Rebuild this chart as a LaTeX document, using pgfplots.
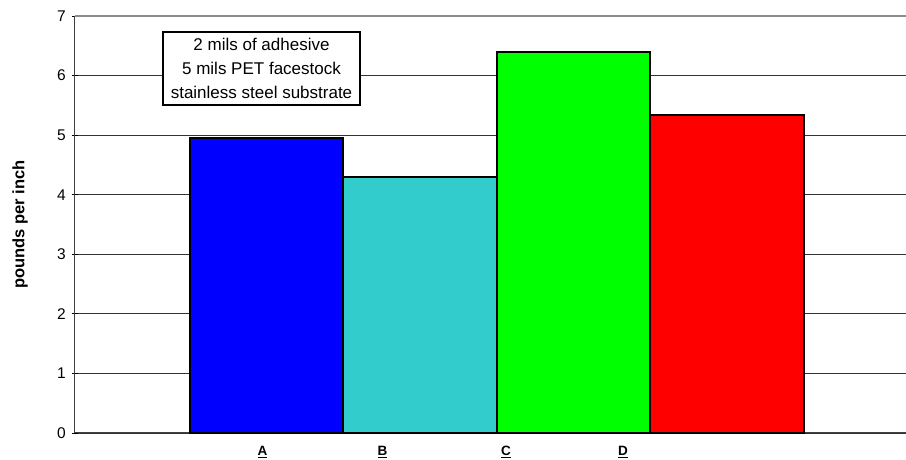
\documentclass[border=0pt]{standalone}
\usepackage{pgfplots}
\pgfplotsset{compat=1.18}
\usepackage{fontspec}
\setmainfont{Liberation Sans}
\definecolor{barA}{RGB}{0,0,255}
\definecolor{barB}{RGB}{51,204,204}
\definecolor{barC}{RGB}{0,255,0}
\definecolor{barD}{RGB}{255,0,0}
\begin{document}
\begin{tikzpicture}[x=1pt,y=1pt]
\begin{axis}[
  name=ax,
  at={(75pt,27pt)}, anchor=south west,
  scale only axis,
  width=831pt, height=417pt,
  xmin=75, xmax=906,
  ymin=0, ymax=7,
  ytick={0,1,...,7},
  xtick={262.5,382.5,506,623},
  xticklabels={\underline{\textbf{A}},\underline{\textbf{B}},\underline{\textbf{C}},\underline{\textbf{D}}},
  xtick style={draw=none},
  x tick label style={font=\fontsize{13.5}{15}\selectfont, yshift=-4pt},
  y tick label style={font=\fontsize{15.5}{17}\selectfont, inner sep=1pt, xshift=-5pt},
  ytick style={black, line width=0.8pt},
  tick align=outside,
  major tick length=6pt,
  axis x line=bottom, axis y line=left,
  axis line style={-, line width=1pt, black!75},
  ymajorgrids,
  grid style={black!80, line width=0.9pt},
  ylabel={\textbf{pounds per inch}},
  ylabel style={font=\fontsize{16.5}{18}\selectfont, at={(axis description cs:-0.0662,0.5)}, anchor=center},
  ybar, bar shift=0pt, bar width=153.5,
  /pgf/number format/assume math mode=true,
  clip=false,
]
\addplot[fill=barA, draw=black, line width=1.6pt] coordinates {(266.5,4.95)};
\addplot[fill=barB, draw=black, line width=1.6pt] coordinates {(420,4.30)};
\addplot[fill=barC, draw=black, line width=1.6pt] coordinates {(573.5,6.40)};
\addplot[fill=barD, draw=black, line width=1.6pt] coordinates {(727,5.34)};
% heavier gray rule along the top grid line
\draw[black!45, line width=2pt] (axis cs:75,7) -- (axis cs:906,7);
\node[draw=black, line width=1.2pt, fill=white, align=center, font=\fontsize{17}{24}\selectfont,
      minimum width=197pt, minimum height=73pt, inner sep=1pt]
  at (axis cs:261.5,6.12) {2 mils of adhesive\\5 mils PET facestock\\stainless steel substrate};
\end{axis}
\pgfresetboundingbox
\path[use as bounding box] (0,0) rectangle (906pt,460pt);
\end{tikzpicture}
\end{document}
